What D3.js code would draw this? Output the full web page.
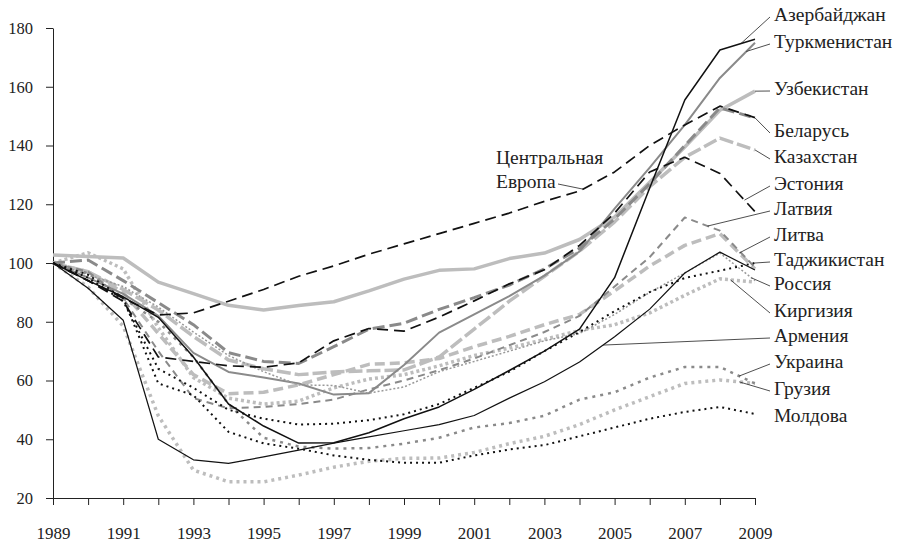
<!DOCTYPE html>
<html>
<head>
<meta charset="utf-8">
<script src="https://cdn.jsdelivr.net/npm/d3@7"></script>
<style>
  body { margin: 0; background: #fff; }
  text { font-family: "Liberation Serif", "DejaVu Serif", serif; fill: #222; }
</style>
</head>
<body>
<script>
// годы и подписи осей
const years = d3.range(1989, 2010);
const yTicks = [20, 40, 60, 80, 100, 120, 140, 160, 180];
const xLabelYears = [1989, 1991, 1993, 1995, 1997, 1999, 2001, 2003, 2005, 2007, 2009];

// ВВП, 1989 = 100
const centralEurope = [100, 94, 88, 82.3, 83, 87, 91, 95.5, 99, 103, 106.5, 110, 113.5, 117, 121, 124.5, 131, 140, 147, 153.4, 149.5];
const azerbaijan   = [100, 94, 88.5, 81.5, 68, 52, 44.5, 38.7, 38.8, 42.2, 47, 51, 57, 63.4, 70, 77.5, 95, 125.5, 155.5, 172.5, 176.2];
const turkmenistan = [100, 95, 89.5, 82, 69.4, 62.9, 61, 59, 55.2, 55.7, 65.3, 76.3, 82.5, 88.7, 95.7, 103.9, 118.5, 132.5, 147, 163, 175];
const uzbekistan   = [102.7, 102.2, 101.7, 93.5, 89.6, 85.6, 84, 85.5, 86.8, 90.5, 94.5, 97.5, 98, 101.5, 103.4, 108, 115.7, 127.5, 139.5, 152, 158.5];
const belarus      = [100, 101, 94, 86.5, 79, 69.5, 66.5, 65.8, 71.5, 77.5, 79.5, 84.2, 88.2, 92.5, 98, 105, 115, 127, 140, 152.8, 149.4];
const kazakhstan   = [100, 97, 91, 84, 75, 67, 64, 62, 62.9, 63.3, 63.6, 68, 77.5, 87, 95.5, 104, 114, 126, 136, 142.5, 138.5];
const estonia      = [100, 94, 87, 68, 66.5, 65, 64.5, 66, 73.5, 77.7, 76.8, 81.6, 87.1, 92.9, 97.7, 106, 117, 131, 136, 130.5, 117.5];
const latvia       = [100, 97, 88, 70, 54, 50.5, 51, 52, 53.5, 57, 60, 63.5, 67.5, 72, 76.5, 82, 92, 102, 115.5, 111, 98.5];
const lithuania    = [100, 97, 90, 76, 62, 55.5, 56, 58.5, 62, 65.5, 66, 67.5, 71.5, 75, 79, 82.5, 90.5, 99, 106, 110, 98];
const tajikistan   = [100, 95, 87, 64, 57.5, 50, 47, 45, 45.3, 46.5, 48.5, 52, 57.5, 63, 70, 76.5, 83.6, 90.1, 94.9, 97.4, 100];
const russia       = [100, 96, 92, 85, 76.5, 68.5, 63, 58.5, 58.3, 55.7, 57.8, 63, 66.5, 70, 73.5, 76, 82.5, 90, 96.6, 103.4, 94];
const kyrgyzstan   = [100, 103.5, 98, 78, 61, 54, 52, 53, 57.5, 60.5, 62, 65, 68.5, 71, 74, 77, 79, 83, 89, 94.6, 93.5];
const armenia      = [100, 91.4, 80.5, 40, 33, 31.8, 34, 36.3, 38.7, 40.8, 42.9, 45, 48.1, 54, 59.6, 66.3, 74.9, 84.3, 96.6, 103.7, 97.6];
const ukraine      = [100, 96.5, 88, 80, 68, 52, 40.5, 37.5, 36.8, 37, 38.5, 40.5, 44, 45.5, 48, 53.5, 56, 61, 64.6, 64.6, 59];
const georgia      = [100, 91.8, 78.5, 48, 29.5, 25.5, 25.5, 27.8, 30.5, 32.5, 33.5, 33.6, 35.5, 38.5, 41, 45, 50, 54.5, 59, 60.2, 59];
const moldova      = [100, 96, 88, 59, 55, 42.5, 38.6, 36.8, 34.5, 33, 32, 32, 34.5, 36.5, 38, 41, 44, 47, 49.3, 51, 48.6];

// порядок рисования: светлые снизу, чёрные сверху
const series = [
  { name: "Узбекистан", values: uzbekistan, color: "#bdbdbd", width: 3.5, dash: null },
  { name: "Казахстан", values: kazakhstan, color: "#bdbdbd", width: 3.5, dash: "14,4" },
  { name: "Литва", values: lithuania, color: "#bdbdbd", width: 3.5, dash: "10,5" },
  { name: "Киргизия", values: kyrgyzstan, color: "#bdbdbd", width: 3.5, dash: "3,3" },
  { name: "Грузия", values: georgia, color: "#bdbdbd", width: 3.5, dash: "3,4" },
  { name: "Беларусь", values: belarus, color: "#8a8a8a", width: 3, dash: "12,5" },
  { name: "Латвия", values: latvia, color: "#8a8a8a", width: 2, dash: "7,5" },
  { name: "Туркменистан", values: turkmenistan, color: "#8a8a8a", width: 2, dash: null },
  { name: "Россия", values: russia, color: "#999", width: 1.5, dash: "2,2" },
  { name: "Украина", values: ukraine, color: "#8a8a8a", width: 2.5, dash: "3,5" },
  { name: "Таджикистан", values: tajikistan, color: "#111", width: 2, dash: "2,4" },
  { name: "Молдова", values: moldova, color: "#111", width: 2, dash: "2,4" },
  { name: "Армения", values: armenia, color: "#111", width: 1.2, dash: null },
  { name: "Азербайджан", values: azerbaijan, color: "#111", width: 1.5, dash: null },
  { name: "Эстония", values: estonia, color: "#111", width: 1.7, dash: "11,6" },
  { name: "Центральная Европа", values: centralEurope, color: "#111", width: 1.7, dash: "11,6" }
];

// подписи справа: центр строки и год точки, к которой идёт выноска
const labels = [
  { name: "Азербайджан", y: 14, at: 2008.6 },
  { name: "Туркменистан", y: 41, at: 2008.75 },
  { name: "Узбекистан", y: 88, at: 2009 },
  { name: "Беларусь", y: 130, at: 2009 },
  { name: "Казахстан", y: 156, at: 2009 },
  { name: "Эстония", y: 183, at: 2008.7 },
  { name: "Латвия", y: 208, at: 2007.65 },
  { name: "Литва", y: 234, at: 2008.55 },
  { name: "Таджикистан", y: 259, at: 2009 },
  { name: "Россия", y: 283, at: 2008.9 },
  { name: "Киргизия", y: 310, at: 2008.3 },
  { name: "Армения", y: 335, at: 2004.67 },
  { name: "Украина", y: 361, at: 2008.55 },
  { name: "Грузия", y: 388, at: 2008.55 },
  { name: "Молдова", y: 415, at: null }
];

const width = 898, height = 544;
const x = d3.scaleLinear().domain([1989, 2009]).range([53, 755]);
const y = d3.scaleLinear().domain([20, 180]).range([498, 28]);

const svg = d3.select("body")
  .append("svg")
  .attr("width", width)
  .attr("height", height);

// оси
svg.append("g")
  .attr("transform", "translate(53,0)")
  .call(d3.axisLeft(y).tickValues(yTicks).tickSize(7).tickSizeOuter(0).tickPadding(13))
  .call(g => g.selectAll("text").style("font-size", "16.5px"))
  .call(g => g.selectAll("line, path").attr("stroke", "#222"));

svg.append("g")
  .attr("transform", "translate(0,498)")
  .call(d3.axisBottom(x).tickValues(years).tickSize(7).tickSizeOuter(0).tickPadding(22)
    .tickFormat(d => xLabelYears.includes(d) ? d : ""))
  .call(g => g.selectAll("text").style("font-size", "17px"))
  .call(g => g.selectAll("line, path").attr("stroke", "#222"));

const line = d3.line()
  .x((d, i) => x(years[i]))
  .y(d => y(d));

svg.append("g")
  .selectAll("path")
  .data(series)
  .enter()
  .append("path")
  .attr("d", d => line(d.values))
  .attr("fill", "none")
  .attr("stroke", d => d.color)
  .attr("stroke-width", d => d.width)
  .attr("stroke-dasharray", d => d.dash)
  .attr("stroke-linejoin", "round");

function valueAt(values, yr) {
  const i = Math.min(Math.floor(yr - 1989), values.length - 2);
  const t = yr - 1989 - i;
  return values[i] + (values[i + 1] - values[i]) * t;
}

const byName = {};
series.forEach(s => (byName[s.name] = s.values));

// подписи стран
const lab = svg.append("g");
labels.forEach(l => {
  lab.append("text")
    .attr("x", 774)
    .attr("y", l.y)
    .attr("dy", "0.35em")
    .style("font-size", "19.5px")
    .text(l.name);
  if (l.at !== null) {
    lab.append("line")
      .attr("x1", 770)
      .attr("y1", l.y + 3)
      .attr("x2", x(l.at))
      .attr("y2", y(valueAt(byName[l.name], l.at)))
      .attr("stroke", "#222")
      .attr("stroke-width", 0.8);
  }
});

// Центральная Европа
lab.append("text").attr("x", 496).attr("y", 157).attr("dy", "0.35em")
  .style("font-size", "19.5px").text("Центральная");
lab.append("text").attr("x", 496).attr("y", 181).attr("dy", "0.35em")
  .style("font-size", "19.5px").text("Европа");
lab.append("line")
  .attr("x1", 558).attr("y1", 184)
  .attr("x2", x(2004.1)).attr("y2", y(valueAt(centralEurope, 2004.1)))
  .attr("stroke", "#222").attr("stroke-width", 0.8);
</script>
</body>
</html>
